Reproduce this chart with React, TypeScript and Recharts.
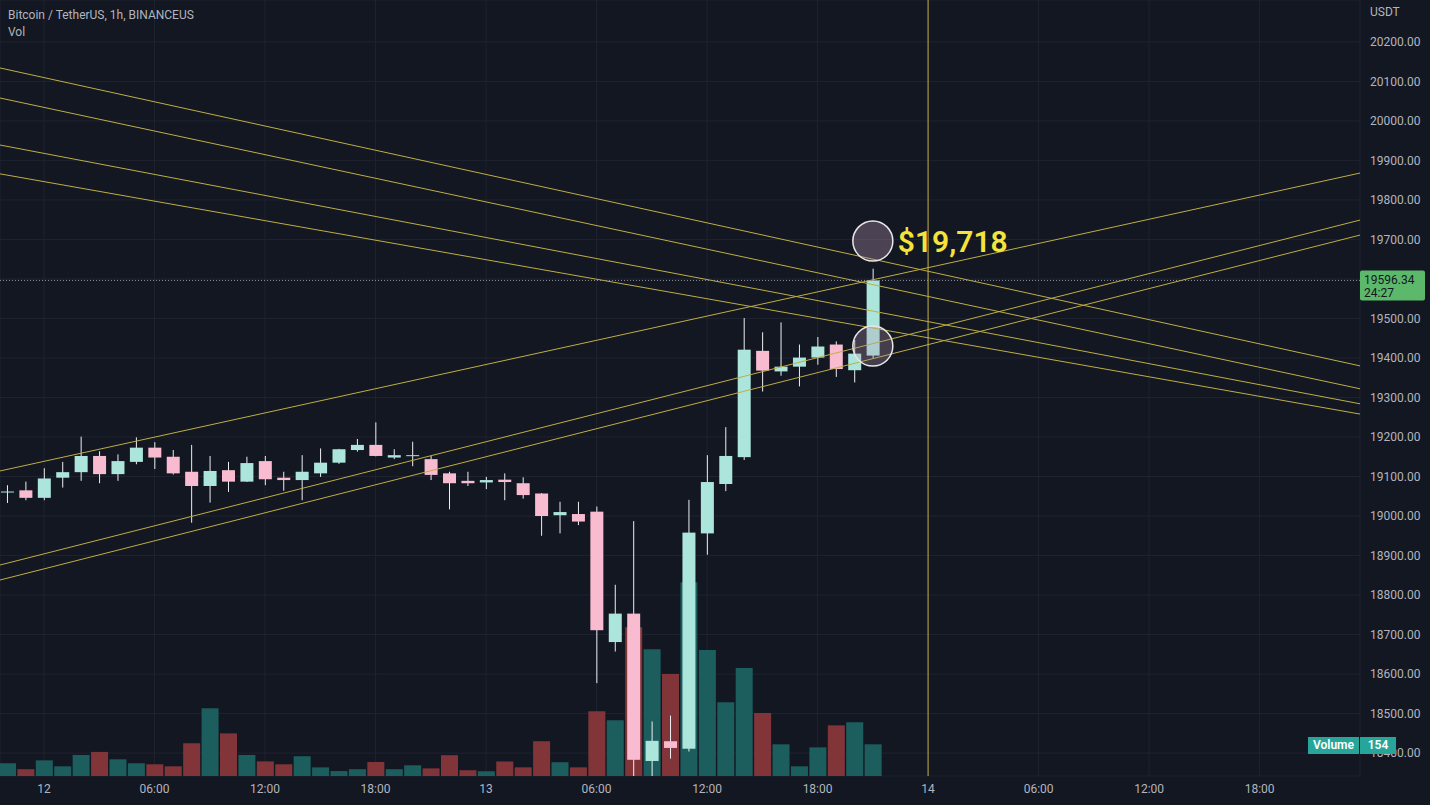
import {
  ComposedChart,
  Bar,
  Cell,
  XAxis,
  YAxis,
  CartesianGrid,
  ReferenceLine,
  ReferenceDot
} from "recharts"

// hourly candles, 11th 22:00 -> 13th 21:00
const times = [
  "11 22:00", "11 23:00",
  "12 00:00", "12 01:00", "12 02:00", "12 03:00", "12 04:00", "12 05:00", "12 06:00", "12 07:00",
  "12 08:00", "12 09:00", "12 10:00", "12 11:00", "12 12:00", "12 13:00", "12 14:00", "12 15:00",
  "12 16:00", "12 17:00", "12 18:00", "12 19:00", "12 20:00", "12 21:00", "12 22:00", "12 23:00",
  "13 00:00", "13 01:00", "13 02:00", "13 03:00", "13 04:00", "13 05:00", "13 06:00", "13 07:00",
  "13 08:00", "13 09:00", "13 10:00", "13 11:00", "13 12:00", "13 13:00", "13 14:00", "13 15:00",
  "13 16:00", "13 17:00", "13 18:00", "13 19:00", "13 20:00", "13 21:00"
]

const opens = [
  19060, 19065, 19046, 19097, 19111, 19152, 19106, 19137, 19173, 19150,
  19112, 19076, 19116, 19087, 19139, 19097, 19091, 19108, 19135, 19167,
  19180, 19148, 19153, 19144, 19108, 19089, 19085, 19092, 19083, 19057,
  19002, 19005, 19011, 18681, 18753, 18380, 18430, 18411, 18956, 19081,
  19149, 19418, 19366, 19378, 19401, 19434, 19369, 19406
]
const highs = [
  19078, 19087, 19121, 19137, 19201, 19164, 19156, 19199, 19187, 19167,
  19180, 19152, 19137, 19150, 19152, 19112, 19154, 19171, 19170, 19195,
  19237, 19169, 19188, 19152, 19112, 19112, 19099, 19108, 19098, 19058,
  19036, 19036, 19024, 18826, 18987, 18480, 18495, 19041, 19154, 19225,
  19501, 19465, 19490, 19434, 19453, 19442, 19446, 19626
]
const lows = [
  19033, 19040, 19040, 19072, 19089, 19083, 19089, 19131, 19119, 19105,
  18983, 19034, 19061, 19086, 19078, 19064, 19040, 19099, 19132, 19163,
  19151, 19144, 19126, 19091, 19017, 19076, 19068, 19040, 19044, 18950,
  18956, 18977, 18577, 18657, 18342, 18342, 18386, 18404, 18902, 19063,
  19142, 19315, 19355, 19328, 19383, 19352, 19338, 19400
]
const closes = [
  19062, 19046, 19095, 19111, 19152, 19106, 19139, 19173, 19148, 19108,
  19076, 19114, 19087, 19134, 19093, 19091, 19112, 19135, 19169, 19180,
  19152, 19154, 19154, 19104, 19083, 19083, 19091, 19086, 19053, 19000,
  19010, 18986, 18711, 18753, 18383, 18431, 18413, 18958, 19086, 19152,
  19421, 19368, 19378, 19401, 19429, 19372, 19411, 19596.34
]
const volumes = [
  62, 33, 76, 47, 102, 117, 81, 62, 57, 47,
  159, 329, 207, 102, 71, 57, 96, 42, 24, 33,
  68, 33, 52, 37, 101, 28, 23, 71, 42, 169,
  67, 42, 314, 271, 723, 616, 496, 941, 612, 358,
  525, 306, 154, 47, 139, 246, 261, 154
]

const timeTicks = [2, 8, 14, 20, 26, 32, 38, 44, 50, 56, 62, 68]
const timeTickLabels = ["12", "06:00", "12:00", "18:00", "13", "06:00", "12:00", "18:00", "14", "06:00", "12:00", "18:00"]
const priceTicks = [
  18400, 18500, 18600, 18700, 18800, 18900, 19000, 19100, 19200, 19300,
  19400, 19500, 19600, 19700, 19800, 19900, 20000, 20100, 20200
]

// user drawn trend lines, [hour index, price] endpoints
const trendLines = [
  [[-0.39, 20134], [73.45, 19380]],
  [[-0.39, 20058], [73.45, 19322]],
  [[-0.39, 19939], [73.45, 19284]],
  [[-0.39, 19866], [73.45, 19258]],
  [[-0.39, 19114], [73.45, 19868]],
  [[-0.39, 18876], [73.45, 19749]],
  [[-0.39, 18838], [73.45, 19711]]
]
const dayMarker = 50
const markers = [19696, 19430]
const lastPrice = 19596.34

const X_DOMAIN = [-0.39, 73.45]
const Y_DOMAIN = [18342, 20306]
const VOL_DOMAIN = [0, 3770]

const BG = "#131722"
const TEXT = "#b2b5be"
const UP = "#ace5dc"
const DOWN = "#f8bbd0"
const WICK = "#eceff2"
const VOL_UP = "#1c5e5e"
const VOL_DOWN = "#813539"
const LINE = "#bfae42"
const FONT = "Roboto, 'Open Sans', sans-serif"

const data = times.map((time, i) => ({
  t: i,
  time,
  o: opens[i],
  h: highs[i],
  l: lows[i],
  c: closes[i],
  range: [lows[i], highs[i]],
  vol: volumes[i]
}))

const Candle = (props: any) => {
  const { x, y, width, height, payload } = props
  if (x == null || y == null) return null
  const { o, h, l, c } = payload
  const top = Math.min(y, y + height)
  const hgt = Math.abs(height)
  const ratio = h - l > 0 ? hgt / (h - l) : 0
  const cx = x + width / 2
  const bodyTop = top + (h - Math.max(o, c)) * ratio
  const bodyH = Math.max(1, Math.abs(o - c) * ratio)
  const up = c >= o
  return (
    <g>
      <line x1={cx} x2={cx} y1={top} y2={top + hgt} stroke={WICK} strokeWidth={1} />
      <rect x={x} y={bodyTop} width={width} height={bodyH} fill={up ? UP : DOWN} />
    </g>
  )
}

const PriceTag = (props: any) => {
  const vb = props.viewBox || {}
  const x = (vb.x || 0) + (vb.width || 0)
  const y = vb.y || 0
  return (
    <g>
      <rect x={x} y={y - 10} width={65} height={30} fill="#5cb96b" rx={2} />
      <text x={x + 4} y={y + 4} fill="#131722" fontSize={12} fontFamily={FONT}>{lastPrice.toFixed(2)}</text>
      <text x={x + 4} y={y + 17} fill="#131722" fontSize={12} fontFamily={FONT}>24:27</text>
    </g>
  )
}

// the last-price tag sits over the nearest axis label
const priceLabel = (v: number) => (Math.abs(v - lastPrice) < 30 ? "" : v.toFixed(2))

export default function App() {
  return (
    <div style={{ position: "relative", width: 1430, height: 805, background: BG, fontFamily: FONT, overflow: "hidden" }}>
      <style>{"body{margin:0;background:#131722}"}</style>
      <ComposedChart width={1430} height={805} data={data} margin={{ top: 0, right: 0, bottom: 0, left: 0 }}>
        <CartesianGrid xAxisId="t" yAxisId="p" stroke="#1f2330" strokeWidth={1} />
        <XAxis
          xAxisId="t"
          dataKey="t"
          type="number"
          domain={X_DOMAIN}
          allowDataOverflow
          ticks={timeTicks}
          interval={0}
          tickFormatter={(v: number) => timeTickLabels[timeTicks.indexOf(v)] ?? ""}
          height={29}
          axisLine={false}
          tickLine={false}
          tick={{ fill: TEXT, fontSize: 12, fontFamily: FONT }}
        />
        <XAxis xAxisId="v" dataKey="t" type="number" domain={X_DOMAIN} allowDataOverflow hide />
        <YAxis
          yAxisId="p"
          orientation="right"
          width={70}
          domain={Y_DOMAIN}
          allowDataOverflow
          ticks={priceTicks}
          interval={0}
          tickFormatter={priceLabel}
          axisLine={false}
          tickLine={false}
          tickMargin={4}
          tick={{ fill: TEXT, fontSize: 12, fontFamily: FONT, textAnchor: "start" }}
        />
        <YAxis yAxisId="vol" domain={VOL_DOMAIN} hide />

        <Bar xAxisId="v" yAxisId="vol" dataKey="vol" barSize={17} isAnimationActive={false}>
          {data.map((d, i) => (
            <Cell key={i} fill={d.c >= d.o ? VOL_UP : VOL_DOWN} />
          ))}
        </Bar>

        {trendLines.map((seg, i) => (
          <ReferenceLine
            key={i}
            xAxisId="t"
            yAxisId="p"
            segment={[{ x: seg[0][0], y: seg[0][1] }, { x: seg[1][0], y: seg[1][1] }]}
            stroke={LINE}
            strokeWidth={1}
            ifOverflow="visible"
          />
        ))}
        <ReferenceLine xAxisId="t" yAxisId="p" x={dayMarker} stroke={LINE} strokeWidth={1} />
        <ReferenceLine
          xAxisId="t"
          yAxisId="p"
          y={lastPrice}
          stroke="#9598a1"
          strokeDasharray="1 2"
          label={<PriceTag />}
        />

        <Bar xAxisId="t" yAxisId="p" dataKey="range" barSize={13} shape={<Candle />} isAnimationActive={false} />

        <ReferenceDot
          xAxisId="t"
          yAxisId="p"
          x={47}
          y={markers[0]}
          r={20}
          fill="rgba(180,150,175,0.35)"
          stroke="#e8e8ea"
          strokeWidth={1.5}
          label={{ value: "$19,718", position: "right", offset: 5, fill: "#f5e33b", fontSize: 30, fontWeight: 600, fontFamily: FONT }}
        />
        <ReferenceDot
          xAxisId="t"
          yAxisId="p"
          x={47}
          y={markers[1]}
          r={20}
          fill="rgba(180,150,175,0.3)"
          stroke="#e8e8ea"
          strokeWidth={1.5}
        />
      </ComposedChart>

      <div style={{ position: "absolute", left: 8, top: 7, color: TEXT, fontSize: 12, lineHeight: "17px" }}>
        <div>Bitcoin / TetherUS, 1h, BINANCEUS</div>
        <div>Vol</div>
      </div>
      <div style={{ position: "absolute", left: 1370, top: 5, color: TEXT, fontSize: 12 }}>USDT</div>
      <div style={{ position: "absolute", left: 1308, top: 737, height: 17, display: "flex", fontSize: 12, fontWeight: 600, color: "#fff", lineHeight: "17px" }}>
        <div style={{ background: "#26a69a", width: 51, textAlign: "center" }}>Volume</div>
        <div style={{ background: "#26a69a", width: 36, textAlign: "center", borderLeft: "1px solid #131722" }}>154</div>
      </div>
    </div>
  )
}
